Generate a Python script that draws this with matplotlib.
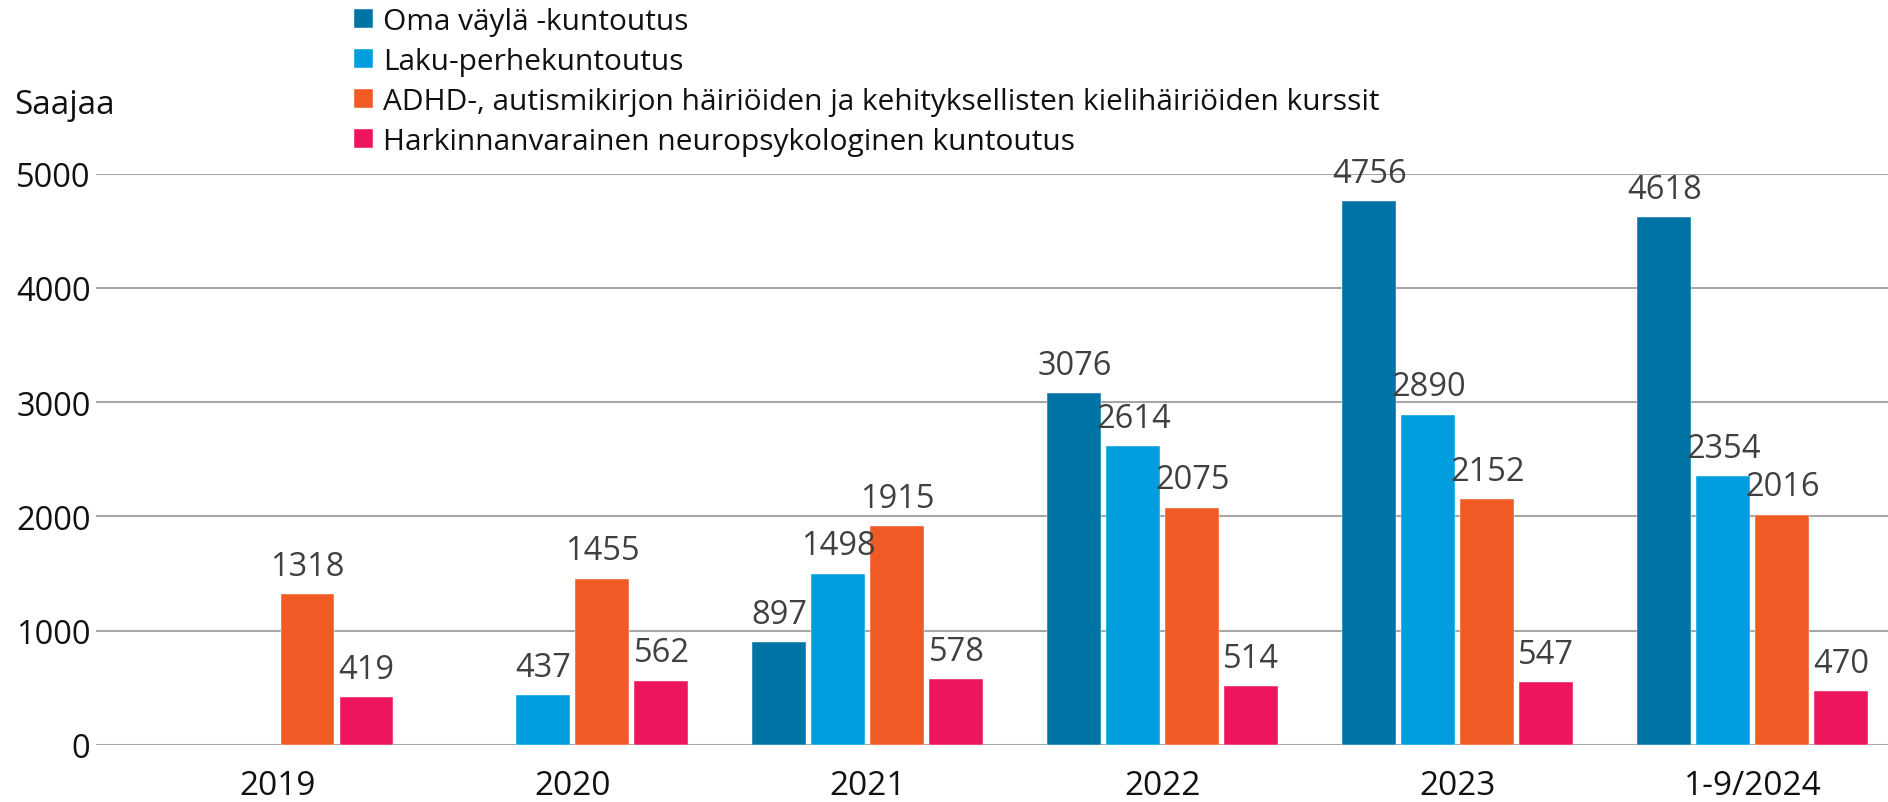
import matplotlib
matplotlib.use("Agg")
import matplotlib.pyplot as plt
import numpy as np

categories = ["2019", "2020", "2021", "2022", "2023", "1-9/2024"]
series_names = [
    "Oma väylä -kuntoutus",
    "Laku-perhekuntoutus",
    "ADHD-, autismikirjon häiriöiden ja kehityksellisten kielihäiriöiden kurssit",
    "Harkinnanvarainen neuropsykologinen kuntoutus",
]
oma_vayla = [None, None, 897, 3076, 4756, 4618]
laku = [None, 437, 1498, 2614, 2890, 2354]
adhd = [1318, 1455, 1915, 2075, 2152, 2016]
harkinnan = [419, 562, 578, 514, 547, 470]
yticks = [0, 1000, 2000, 3000, 4000, 5000]

colors = ["#0075A5", "#009EDE", "#F05A24", "#ED165D"]
series = [oma_vayla, laku, adhd, harkinnan]

plt.rcParams['font.family'] = ['Open Sans', 'DejaVu Sans']

W, H = 1888, 803
fig = plt.figure(figsize=(W / 100, H / 100), dpi=100)
left = 96 / W
bottom = (H - 746) / H
height = (746 - 174.6) / H
ax = fig.add_axes([left, bottom, 1 - left, height])

x = np.arange(len(categories))
bw = 0.183
offsets = [-0.3, -0.1, 0.1, 0.3]
handles = []
for vals, c, off, name in zip(series, colors, offsets, series_names):
    v = np.array([np.nan if a is None else a for a in vals], dtype=float)
    bars = ax.bar(x + off, v, width=bw, color=c, label=name, zorder=3,
                  edgecolor="white", linewidth=0.3)
    handles.append(bars)
    for xi, val in zip(x + off, v):
        if not np.isnan(val):
            ax.text(xi, val + 170, f"{int(val)}", ha="center", va="baseline",
                    fontsize=23.5, color="#404040", clip_on=False, zorder=4)

ax.set_xlim(-0.617, 5.458)
ax.set_ylim(0, 5000)
ax.set_yticks(yticks)
ax.set_yticklabels([str(t) for t in yticks], fontsize=23.5, color="#111111")
ax.set_xticks(x)
ax.set_xticklabels(categories, fontsize=24, color="#111111")
ax.tick_params(axis="both", length=0)
ax.tick_params(axis="y", pad=4)
ax.tick_params(axis="x", pad=17)
ax.yaxis.grid(True, color="#A6A6A6", linewidth=1.5, zorder=0)
ax.set_axisbelow(True)
for s in ax.spines.values():
    s.set_visible(False)

fig.text(14 / W, 1 - 106 / H, "Saajaa", fontsize=24, color="#111111",
         va="center", ha="left")

leg = fig.legend(handles=handles, labels=series_names, loc="upper left",
                 bbox_to_anchor=(354 / W, 1 - 8 / H), frameon=False,
                 fontsize=21.5, handlelength=0.62, handleheight=0.62,
                 handletextpad=0.35, labelspacing=0.37, borderpad=0,
                 borderaxespad=0)
for t in leg.get_texts():
    t.set_color("#111111")

fig.savefig("out.png", dpi=100)
